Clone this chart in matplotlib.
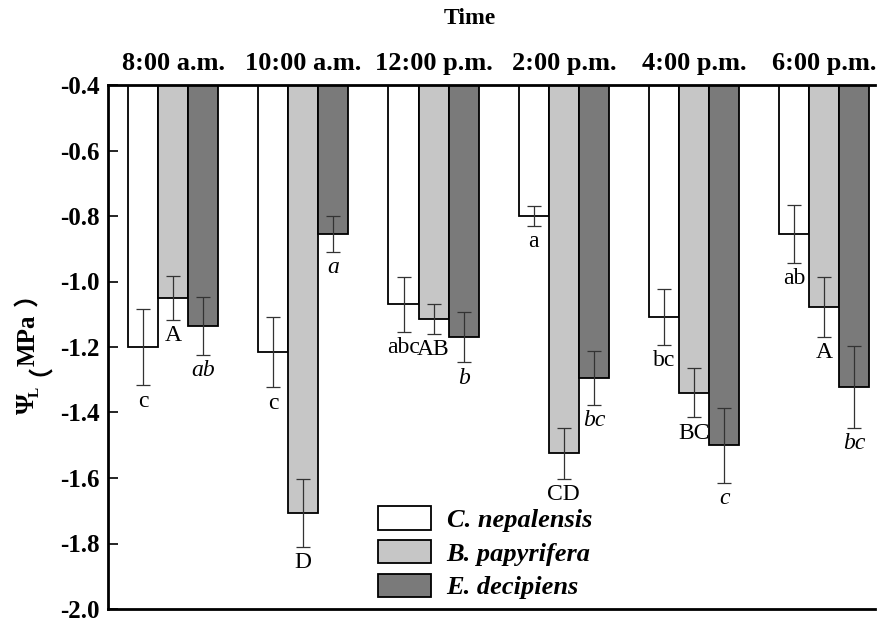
import matplotlib
matplotlib.use("Agg")
import matplotlib.pyplot as plt
import numpy as np

times = ["8:00 a.m.", "10:00 a.m.", "12:00 p.m.", "2:00 p.m.", "4:00 p.m.", "6:00 p.m."]
species = ["C. nepalensis", "B. papyrifera", "E. decipiens"]

c_nep = [-1.20, -1.215, -1.07, -0.80, -1.108, -0.855]
b_pap = [-1.05, -1.707, -1.115, -1.524, -1.340, -1.078]
e_dec = [-1.135, -0.855, -1.170, -1.295, -1.500, -1.322]

c_nep_err = [0.117, 0.108, 0.085, 0.030, 0.086, 0.088]
b_pap_err = [0.067, 0.104, 0.045, 0.078, 0.075, 0.092]
e_dec_err = [0.089, 0.055, 0.077, 0.082, 0.115, 0.125]

c_nep_let = ["c", "c", "abc", "a", "bc", "ab"]
b_pap_let = ["A", "D", "AB", "CD", "BC", "A"]
e_dec_let = ["ab", "a", "b", "bc", "c", "bc"]

yticks = [-0.4, -0.6, -0.8, -1.0, -1.2, -1.4, -1.6, -1.8, -2.0]

SERIF = "Liberation Serif"
CJK = "Noto Sans CJK SC"
W, H = 883, 621
fig = plt.figure(figsize=(W / 100, H / 100), dpi=100)
ax = fig.add_axes([108 / W, 1 - 609 / H, (875 - 108) / W, (609 - 85) / H])

x = np.arange(len(times))
bw = 30 / 130
colors = ["#ffffff", "#c6c6c6", "#7a7a7a"]
vals = [c_nep, b_pap, e_dec]
errs = [c_nep_err, b_pap_err, e_dec_err]
lets = [c_nep_let, b_pap_let, e_dec_let]
styles = ["normal", "normal", "italic"]
base = -0.4
handles = []
for i in range(3):
    xs = x + (i - 1) * bw
    v = np.array(vals[i])
    h = ax.bar(xs, v - base, bottom=base, width=bw, color=colors[i],
               edgecolor="black", linewidth=1.3, label=species[i], zorder=2)
    handles.append(h)
    ax.errorbar(xs, v, yerr=errs[i], fmt="none", ecolor="#333333",
                elinewidth=0.9, capsize=5, capthick=0.9, zorder=3)
    for xx, vv, ee, t in zip(xs, v, errs[i], lets[i]):
        ax.text(xx, vv - ee - 0.048, t, ha="center", va="center",
                fontsize=17, family=SERIF, style=styles[i])

ax.set_ylim(-2.0, -0.4)
ax.set_xlim(-0.5, 5.39)
ax.set_yticks(yticks)
ax.set_yticklabels([f"{t:.1f}" for t in yticks], fontsize=18,
                   fontweight="bold", family=SERIF)
ax.tick_params(axis="y", direction="in", length=7, width=1.2, pad=6)

ax.xaxis.tick_top()
ax.set_xticks(x)
ax.set_xticklabels(times, fontsize=19, fontweight="bold", family=SERIF)
ax.tick_params(axis="x", length=0, pad=7)

for s in ["top", "left", "bottom"]:
    ax.spines[s].set_linewidth(2)
ax.spines["right"].set_visible(False)

fig.text(470 / W, 1 - 18 / H, "Time", ha="center", va="center",
         fontsize=17, fontweight="bold", family=SERIF)

# y label: Ψ_L（MPa）
fig.text(27 / W, 1 - 404 / H, "Ψ", rotation=90, ha="center", va="center",
         fontsize=19, fontweight="bold", family=SERIF)
fig.text(35 / W, 1 - 392 / H, "L", rotation=90, ha="center", va="center",
         fontsize=11, fontweight="bold", family=SERIF)
fig.text(28 / W, 1 - 363 / H, "（", rotation=90, ha="center", va="center",
         fontsize=18, fontweight="bold", family=CJK)
fig.text(28 / W, 1 - 340 / H, "MPa", rotation=90, ha="center", va="center",
         fontsize=18, fontweight="bold", family=SERIF)
fig.text(28 / W, 1 - 294 / H, "）", rotation=90, ha="center", va="center",
         fontsize=18, fontweight="bold", family=CJK)

leg = fig.legend(handles=handles, labels=species, loc="upper left",
                 bbox_to_anchor=(378 / W, 1 - 506 / H), frameon=False,
                 prop={"family": SERIF, "size": 19, "weight": "bold", "style": "italic"},
                 handlelength=2.0, handleheight=1.0, handletextpad=0.6,
                 labelspacing=0.3, borderpad=0, borderaxespad=0)

fig.savefig("out.png", dpi=100)
